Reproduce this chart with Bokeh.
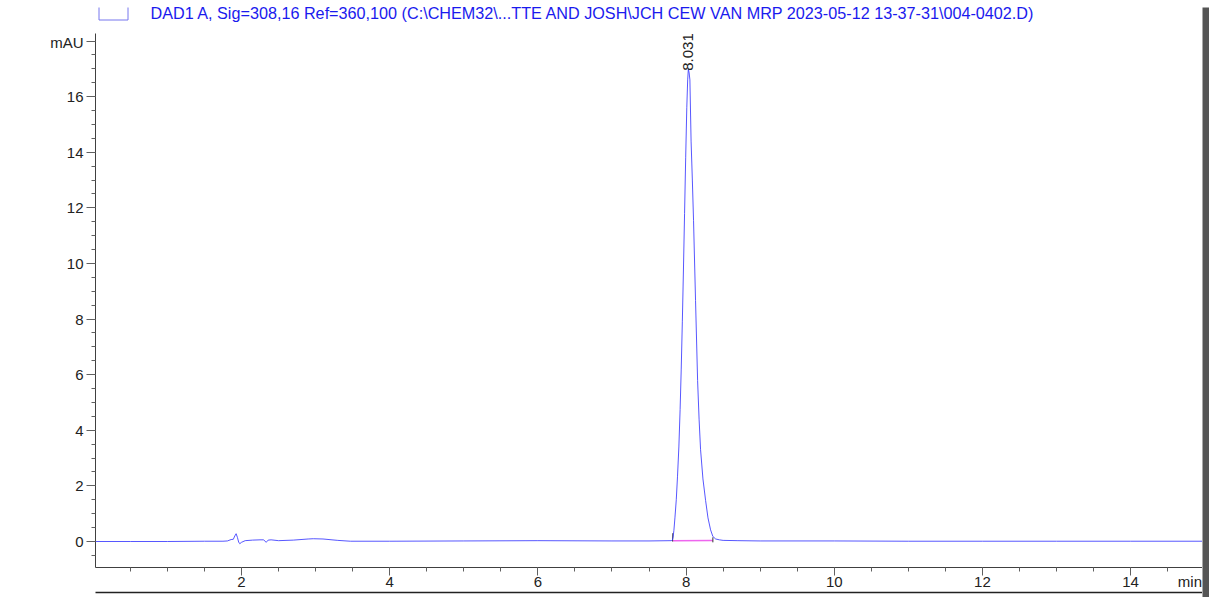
from bokeh.plotting import figure
from bokeh.models import FixedTicker, Label, Range1d, LinearAxis
from bokeh.layouts import column, row
from bokeh.core.properties import value
from bokeh.embed import file_html
from bokeh.resources import INLINE
import math

# ---- data ----
time_min = [0.03, 0.5, 1.0, 1.5, 1.75, 1.81, 1.86, 1.89, 1.91, 1.928, 1.945, 1.962,
            1.977, 2.00, 2.05, 2.15, 2.25, 2.30, 2.333, 2.36, 2.40, 2.50, 2.70, 2.90,
            2.97, 3.10, 3.30, 3.47, 4.0, 5.0, 6.0, 7.0, 7.5, 7.80, 7.815, 7.825,
            7.836, 7.850, 7.868, 7.885, 7.903, 7.920, 7.935, 7.950, 7.965, 7.980,
            7.995, 8.010, 8.022, 8.031, 8.042, 8.052, 8.068, 8.085, 8.101, 8.128,
            8.156, 8.176, 8.196, 8.228, 8.264, 8.296, 8.331, 8.362, 8.40, 8.45,
            8.50, 8.70, 9.0, 10.0, 11.0, 12.0, 13.0, 14.0, 14.97]
signal_mau = [0.00, 0.00, 0.00, 0.01, 0.01, 0.02, 0.07, 0.08, 0.20, 0.28, 0.15, -0.02,
              -0.08, -0.03, 0.03, 0.05, 0.06, 0.06, -0.03, 0.05, 0.06, 0.03, 0.05, 0.09,
              0.10, 0.09, 0.04, 0.01, 0.01, 0.02, 0.03, 0.02, 0.02, 0.03, 0.05, 0.15,
              0.40, 0.85, 1.50, 2.35, 3.40, 4.75, 6.20, 7.90, 9.80, 11.80,
              13.80, 15.60, 16.60, 17.00, 16.85, 16.60, 14.40, 13.00, 11.55, 8.67,
              5.79, 4.40, 3.30, 2.25, 1.47, 0.85, 0.42, 0.18, 0.09, 0.06,
              0.04, 0.03, 0.02, 0.02, 0.01, 0.01, 0.01, 0.01, 0.01]

peak_rt = 8.031
peak_label = "8.031"
peak_top = 17.00
baseline_t = [7.822, 8.362]
baseline_y = [0.03, 0.04]

x_major = [2, 4, 6, 8, 10, 12, 14]
x_unit_pos = 14.80
x_unit = "min"
y_major = [0, 2, 4, 6, 8, 10, 12, 14, 16, 18]
y_labels = {18: "mAU"}
x_minor = [i * 0.5 for i in range(0, 31)]
y_minor = [i * 0.5 for i in range(-2, 38)]

title_text = "DAD1 A, Sig=308,16 Ref=360,100 (C:\\CHEM32\\...TTE AND JOSH\\JCH CEW VAN MRP 2023-05-12 13-37-31\\004-0402.D)"

FONT = "Liberation Sans"
W = 1202


def blank(fig, color=None):
    fig.axis.visible = False
    fig.grid.visible = False
    fig.outline_line_color = None
    if color:
        fig.background_fill_color = color
        fig.border_fill_color = color
    return fig


# ---------- header strip (signal description + line key) ----------
top = blank(figure(width=W, height=33, output_backend="svg", toolbar_location=None,
                   x_range=Range1d(95, W), y_range=Range1d(33, 0),
                   min_border_left=95, min_border_right=0, min_border_top=0,
                   min_border_bottom=0))
top.text(x=[150], y=[12.5], text=[title_text], text_baseline="middle",
         text_font=value(FONT), text_font_size="16.2px", text_color="#1a1aee")
top.line(x=[98.5, 98.5, 127.5, 127.5], y=[7, 19.5, 19.5, 7], line_color="#7777ee",
         line_width=1)

# ---------- main chromatogram ----------
p = figure(width=W, height=564, output_backend="svg", toolbar_location=None,
           x_range=Range1d(0.03, 14.97), y_range=Range1d(-0.935, 18.27),
           min_border_left=95, min_border_right=0, min_border_top=0, min_border_bottom=30)
p.outline_line_color = None
p.xgrid.visible = False
p.ygrid.visible = False

for ax in (p.xaxis[0], p.yaxis[0]):
    ax.axis_line_color = "#404040"
    ax.major_tick_line_color = "#606060"
    ax.minor_tick_line_color = "#606060"
    ax.major_label_text_font = FONT
    ax.major_label_text_font_size = "15px"
    ax.major_label_text_color = "#222222"
    ax.major_tick_in = 0
    ax.minor_tick_in = 0

p.xaxis.ticker = FixedTicker(ticks=x_major, minor_ticks=x_minor)
p.xaxis.major_tick_out = 8
p.xaxis.minor_tick_out = 4
p.xaxis.major_label_standoff = 1

# unit label ("min") on a line-less axis pulled up beside the numbers
unit_axis = LinearAxis(ticker=FixedTicker(ticks=[x_unit_pos], minor_ticks=[]),
                       major_label_overrides={x_unit_pos: x_unit},
                       axis_line_color=None, major_tick_line_color=None,
                       minor_tick_line_color=None, major_tick_out=0, major_tick_in=0,
                       minor_tick_out=0, minor_tick_in=0, major_label_standoff=-17,
                       major_label_text_font=FONT, major_label_text_font_size="15px",
                       major_label_text_color="#222222")
p.add_layout(unit_axis, "below")

# page edge line under the axis
edge_axis = LinearAxis(ticker=FixedTicker(ticks=[], minor_ticks=[]),
                       axis_line_color="#222222", axis_line_width=1.5,
                       major_tick_line_color=None, minor_tick_line_color=None,
                       major_tick_out=0, major_tick_in=0, minor_tick_out=0,
                       minor_tick_in=0, major_label_standoff=0)
p.add_layout(edge_axis, "below")

p.yaxis.ticker = FixedTicker(ticks=y_major, minor_ticks=y_minor)
p.yaxis.major_label_overrides = y_labels
p.yaxis.major_tick_out = 9
p.yaxis.minor_tick_out = 4
p.yaxis.major_label_standoff = 3

# baseline of integration
p.line(baseline_t, baseline_y, line_color="#ee66ee", line_width=1.5)
p.segment(x0=[baseline_t[0], baseline_t[1]], y0=[0.30, 0.15],
          x1=[baseline_t[0] - 0.004, baseline_t[1]], y1=[0.0, -0.03],
          line_color="#333333", line_width=1)

# signal
p.line(time_min, signal_mau, line_color="#3a3aff", line_width=1, line_alpha=0.85)

# peak label
p.add_layout(Label(x=peak_rt, y=peak_top, text=peak_label, angle=math.pi / 2,
                   text_align="left", text_baseline="middle", y_offset=-2,
                   text_font=FONT, text_font_size="15px", text_color="#222222"))

# ---------- right page edge ----------
right_bar = blank(figure(width=7, height=590, output_backend="svg",
                         toolbar_location=None, min_border=0), "#555555")
right_bar.margin = (7, 0, 0, 0)

layout = row(column(top, p, spacing=0), right_bar, spacing=0)

open("out.html", "w").write(file_html(layout, INLINE))
